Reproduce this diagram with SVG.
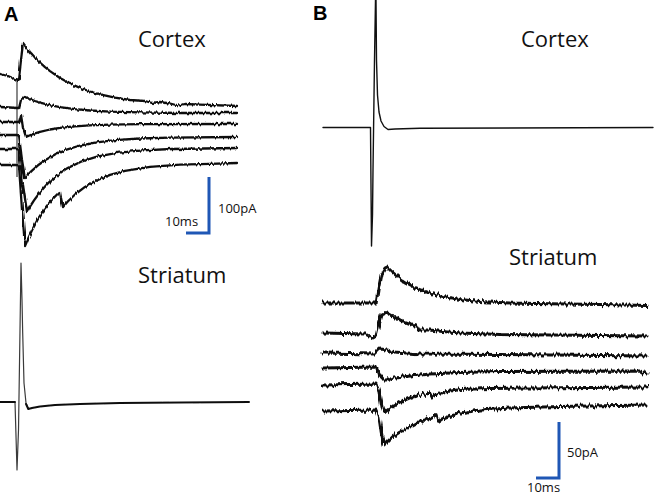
<svg xmlns="http://www.w3.org/2000/svg" width="654" height="496" viewBox="0 0 654 496">
<style>
.lbl{font-family:"Liberation Sans",Arial,sans-serif;font-weight:bold;font-size:20px;fill:#000}
.title{font-family:"Open Sans","Liberation Sans",sans-serif;font-size:22px;fill:#111}
.sc{font-family:"Open Sans","Liberation Sans",sans-serif;font-size:13px;fill:#111}
.tr{fill:none;stroke:#111;stroke-linejoin:round;stroke-linecap:round}
.thin{fill:none;stroke:#3a3a3a;stroke-width:1.2;stroke-linejoin:round}
.bar{fill:none;stroke:#1f57b5;stroke-width:3}
</style>
<defs>
<filter id="nA" filterUnits="userSpaceOnUse" x="0" y="0" width="654" height="496">
<feTurbulence type="fractalNoise" baseFrequency="0.55 0.03" numOctaves="2" seed="3" result="t"/>
<feDisplacementMap in="SourceGraphic" in2="t" scale="3.4" xChannelSelector="B" yChannelSelector="G"/>
</filter>
<filter id="nB" filterUnits="userSpaceOnUse" x="0" y="0" width="654" height="496">
<feTurbulence type="fractalNoise" baseFrequency="0.45 0.03" numOctaves="2" seed="7" result="t"/>
<feDisplacementMap in="SourceGraphic" in2="t" scale="6" xChannelSelector="B" yChannelSelector="G"/>
</filter>
<filter id="nS" filterUnits="userSpaceOnUse" x="0" y="0" width="654" height="496">
<feTurbulence type="fractalNoise" baseFrequency="0.5 0.03" numOctaves="1" seed="5" result="t"/>
<feDisplacementMap in="SourceGraphic" in2="t" scale="1.6" xChannelSelector="B" yChannelSelector="G"/>
</filter>
</defs>
<rect width="654" height="496" fill="#fff"/>

<g id="panel-a-cortex">
<text class="lbl" x="4" y="21">A</text>
<text class="title" x="138" y="47">Cortex</text>
<line class="thin" x1="17" y1="78" x2="17" y2="177"/>
<g class="tr" stroke-width="2.3" filter="url(#nA)">
<polyline points="0,74 8,76 15,79 17,80 19,79 21,60 23,43 26,47 30,52 35,57.6 40,62.6 45,67.1 50,71.1 60,78 70,83.5 80,87.9 90,91.5 100,94.4 115,97.6 130,100 145,101 152,103 160,102 170,103.5 178,105.5 185,104 200,104.7 237,106"/>
<polyline points="0,107 10,107.5 17,108 19,108 21,100 25,97 30,99.1 35,101 40,102.6 50,105.2 60,107.1 75,109.2 90,110.5 110,111.6 140,112.4 180,113 237,113"/>
<polyline points="0,122 17,122 19,122 21,115 23,128 26,137 30,135.3 35,133.4 40,131.9 50,129.5 60,127.9 75,126.3 90,125.3 110,124.6 140,124.2 237,124"/>
<polyline points="0,135 17,135 19,136 22,160 25,178 28,174.6 32,170.6 38,165.3 45,160.2 55,154.4 65,150.1 80,145.5 95,142.6 115,140.1 140,138.5 170,137.7 237,137"/>
<polyline points="0,149 17,149 19,150 23,185 27,212 30,206.7 34,200.4 40,192.2 47,184.2 57,175.1 67,168.4 82,161.3 97,156.6 117,152.9 142,150.4 172,149 237,148"/>
<polyline points="0,165 17,165 19,166 22,210 25,246 28,238.8 32,230.2 38,218.9 45,208.2 52,199.6 58,193.5 60,192 61,198 63,207 68,201.3 75,194.5 85,186.9 95,181.1 110,174.9 125,170.9 150,166.9 180,164.7 210,163.8 237,163"/>
</g>
<path class="bar" d="M186,233 H209 V177"/>
<text class="sc" x="218" y="213">100pA</text>
<text class="sc" x="165" y="226">10ms</text>
</g>

<g id="panel-a-striatum">
<text class="title" x="138" y="283">Striatum</text>
<path class="thin" d="M15,402 L17,470 L18.5,430 L20,330 L21,263 L22,300 L22.7,333 L24,383 L26,403 L28.3,409"/>
<polyline class="tr" stroke-width="2" filter="url(#nS)" points="0,402 15,402"/>
<polyline class="tr" stroke-width="2" filter="url(#nS)" points="26,404 28.3,409 32,408 40,406.5 55,405 80,404 120,403 180,402.5 249,402"/>
</g>

<g id="panel-b-cortex">
<text class="lbl" x="313" y="20">B</text>
<text class="title" x="521" y="47">Cortex</text>
<path class="tr" stroke-width="1.4" d="M323,127.5 L370.5,127.5 L371.5,246 L372.5,215 L373,170 L374.5,60 L375.5,0 M376,0 L376.5,60 L377.5,95 L379,112 L381,121 L384,126.5 L388,129.5 L395,129 L420,128.3 L653,127.5"/>
</g>

<g id="panel-b-striatum">
<text class="title" x="509" y="265">Striatum</text>
<g class="tr" stroke-width="3" filter="url(#nB)">
<polyline points="323,303 376,303 378,290 381,275 385,268 387,267 392,271.9 398,277 405,281.9 415,287.4 428,292.5 443,296.5 460,299.4 480,301.4 510,302.9 550,303.8 600,304.5 647,305.5"/>
<polyline points="323,333 365,334 373,338 376,336 379,324 382,314 386,312 393,316 400,320.6 410,324.5 417,326.5 419,330 430,330 440,331.2 460,333 500,334.5 647,336"/>
<polyline points="323,353 375,354 380,349 386,350 395,352 420,354 500,354.5 647,356"/>
<polyline points="323,368 376,367 379,375 383,380 386,380 395,378 410,376 430,374 460,372.5 500,371.5 640,371 647,374"/>
<polyline points="323,385 376,384 379,392 382,408 384,413 388,409.6 393,406 400,402 410,397.8 420,395 430,392.7 432,397 436,394 445,392 460,389.6 490,388.5 530,388 647,387"/>
<polyline points="323,411 376,410 379,418 382,437 384,445 388,441 393,436.5 400,432 410,427 420,421.5 430,418.5 436,415.5 438,422 442,419 450,416 460,413 480,410 510,408 560,406.5 647,405"/>
</g>
<path class="bar" d="M536,478 H559 V422"/>
<text class="sc" x="567" y="457">50pA</text>
<text class="sc" x="527" y="492">10ms</text>
</g>
</svg>
